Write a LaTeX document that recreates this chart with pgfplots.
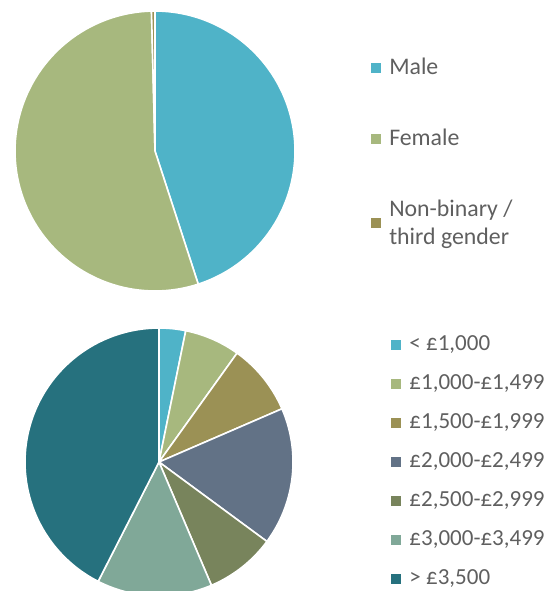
\documentclass[border=0pt]{standalone}
\usepackage{pgfplots}
\pgfplotsset{compat=1.18}
\usepackage{fontspec}
\setmainfont{Carlito}
\definecolor{cA}{HTML}{4FB3C8}
\definecolor{cB}{HTML}{A7B87E}
\definecolor{cC}{HTML}{9B9155}
\definecolor{cD}{HTML}{627286}
\definecolor{cE}{HTML}{78845C}
\definecolor{cF}{HTML}{80A898}
\definecolor{cG}{HTML}{26717E}
\definecolor{txt}{HTML}{5F5F5F}
\newcommand\pieslices[1]{%
  \xdef\start{0}%
  \foreach \v/\c in {#1}{%
    \pgfmathsetmacro\a{90-3.6*\start}%
    \pgfmathsetmacro\b{90-3.6*(\start+\v)}%
    \edef\tmp{\noexpand\addplot[fill=\c, draw=white, line width=0.8pt, domain=\b:\a, samples=90, variable=\noexpand\t] ({cos(\noexpand\t)},{sin(\noexpand\t)}) -- (axis cs:0,0) -- cycle;}%
    \tmp
    \pgfmathsetmacro\s{\start+\v}\xdef\start{\s}%
  }%
}
\pgfplotsset{
  piestyle/.style={anchor=center, scale only axis, xmin=-1, xmax=1, ymin=-1, ymax=1,
    hide axis, clip=false,
    legend image code/.code={\fill[##1, draw=none] (0pt,-2.5pt) rectangle (5pt,2.5pt);},
    legend style={draw=none, fill=none, inner sep=0pt, anchor=north west,
      font=\fontsize{11.9}{14.2}\selectfont, text=txt,
      nodes={inner sep=0pt}, column sep=4pt, cells={anchor=west, align=left}},
  }
}
\begin{document}
\begin{tikzpicture}
\useasboundingbox (0,0) rectangle (274.5pt,-295.5pt);
\begin{axis}[piestyle, at={(77.5pt,-75.5pt)}, width=140pt, height=140pt,
  legend entries={Male, Female, {Non-binary /\\third gender}},
  legend style={at={(1.271,0.832)}, row sep=25.5pt}]
\pieslices{45.0/cA,54.6/cB,0.4/cC}
\end{axis}
\begin{axis}[piestyle, at={(79.5pt,-231pt)}, width=134pt, height=134pt,
  legend entries={{< £1,000},{£1,000-£1,499},{£1,500-£1,999},{£2,000-£2,499},{£2,500-£2,999},{£3,000-£3,499},{> £3,500}},
  legend style={at={(1.366,1.012)}, row sep=0pt, font=\fontsize{11.5}{14}\selectfont,
    nodes={text height=12.5pt, text depth=7pt}}]
\pieslices{3.2/cA,6.7/cB,8.6/cC,16.6/cD,8.5/cE,13.9/cF,42.5/cG}
\end{axis}
\end{tikzpicture}
\end{document}
